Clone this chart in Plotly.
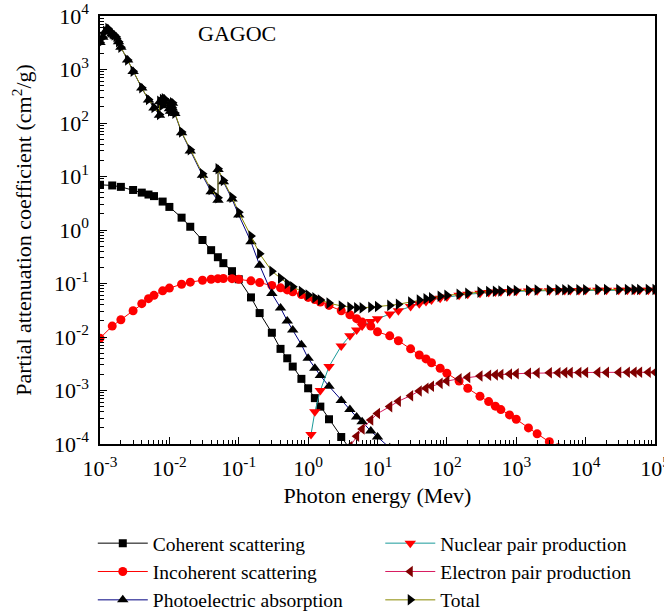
import plotly.graph_objects as go

# ---------------- data ----------------
E_coh = [1e-3, 1.5e-3, 2e-3, 3e-3, 4e-3, 5e-3, 6e-3, 8e-3, 1e-2, 1.5e-2, 2e-2, 3e-2, 4e-2, 5e-2,
         6e-2, 8e-2, 0.1, 0.15, 0.2, 0.3, 0.4, 0.5, 0.6, 0.8, 1, 1.25, 1.5, 2, 3, 4]
coherent = [7.0, 6.8, 6.4, 5.6, 5.0, 4.6, 4.3, 3.4, 2.7, 1.7, 1.15, 0.65, 0.42, 0.31,
            0.24, 0.17, 0.12, 0.055, 0.028, 0.012, 6.0e-3, 4.0e-3, 2.8e-3, 1.65e-3, 1.1e-3,
            7.2e-4, 5.0e-4, 2.9e-4, 1.35e-4, 8e-5]

E_inc = [1e-3, 1.5e-3, 2e-3, 3e-3, 4e-3, 5e-3, 6e-3, 8e-3, 1e-2, 1.5e-2, 2e-2, 3e-2, 4e-2, 5e-2,
         6e-2, 8e-2, 0.1, 0.15, 0.2, 0.3, 0.4, 0.5, 0.6, 0.8, 1, 1.25, 1.5, 2, 3, 4, 5, 6, 8,
         10, 15, 20, 30, 40, 50, 60, 80, 100, 150, 200, 300, 400, 500, 600, 800, 1e3, 1.5e3,
         2e3, 3e3, 4e3]
incoherent = [0.0095, 0.016, 0.021, 0.031, 0.042, 0.052, 0.06, 0.073, 0.082, 0.097, 0.106,
              0.115, 0.12, 0.123, 0.124, 0.123, 0.12, 0.112, 0.104, 0.092, 0.083, 0.076, 0.07,
              0.062, 0.055, 0.05, 0.045, 0.039, 0.031, 0.026, 0.022, 0.019, 0.016, 0.0125,
              0.0105, 0.0085, 0.006, 0.0046, 0.0039, 0.0033, 0.0026, 0.0021, 0.0015, 0.0011,
              7.8e-4, 6.2e-4, 5.1e-4, 4.4e-4, 3.5e-4, 2.9e-4, 2.0e-4, 1.55e-4, 1.1e-4, 8.5e-5]

E_pe = [1e-3, 1.1e-3, 1.2e-3, 1.3e-3, 1.4e-3, 1.5e-3, 1.6e-3, 1.7e-3, 1.85e-3, 2e-3, 2.5e-3,
        3e-3, 4e-3, 5e-3, 6e-3, 7.2e-3, 7.25e-3, 7.9e-3, 7.95e-3, 8.4e-3, 8.45e-3, 1e-2,
        1.037e-2, 1.04e-2, 1.1e-2, 1.11e-2, 1.2e-2, 1.5e-2, 2e-2, 3e-2, 4e-2, 5.02e-2, 5.03e-2,
        6e-2, 8e-2, 0.1, 0.15, 0.2, 0.3, 0.4, 0.5, 0.6, 0.8, 1, 1.25, 1.5, 2, 3, 4, 5, 6, 8,
        10, 15]
photoelectric = [3200, 4000, 5200, 5800, 5000, 4700, 4400, 4100, 3300, 2600, 1500, 920, 450,
                 270, 190, 140, 250, 210, 270, 240, 280, 185, 165, 225, 190, 235, 150, 66, 30,
                 10.5, 5.2, 3.6, 13.5, 8.0, 3.8, 1.9, 0.6, 0.22, 0.065, 0.035, 0.02, 0.0135,
                 0.0072, 0.004, 0.0026, 0.0019, 0.0012, 6.5e-4, 4.4e-4, 3.2e-4, 2.6e-4,
                 1.75e-4, 1.35e-4, 8.5e-5]

E_nuc = [1.1, 1.25, 1.5, 2, 3, 4, 5, 6, 8, 10, 15, 20, 30, 40, 50, 60, 80, 100, 150, 200, 300,
         400, 500, 600, 800, 1e3, 1.5e3, 2e3, 3e3, 4e3, 5e3, 6e3, 8e3, 1e4, 1.5e4, 2e4, 3e4,
         4e4, 5e4, 6e4, 8e4, 1e5]
nuclear_pair = [1.5e-4, 4e-4, 1.0e-3, 2.8e-3, 6.8e-3, 0.0105, 0.0135, 0.016, 0.0195, 0.022,
                0.027, 0.031, 0.037, 0.042, 0.046, 0.049, 0.053, 0.056, 0.060, 0.063, 0.066,
                0.068, 0.069, 0.070, 0.071, 0.0717, 0.0725, 0.073, 0.0735, 0.0737, 0.074,
                0.074, 0.0742, 0.0744, 0.0745, 0.0746, 0.0747, 0.0748, 0.0748, 0.0749, 0.075,
                0.075]

E_el = [4, 5, 6, 8, 10, 15, 20, 30, 40, 50, 60, 80, 100, 150, 200, 300, 400, 500, 600, 800,
        1e3, 1.5e3, 2e3, 3e3, 4e3, 5e3, 6e3, 8e3, 1e4, 1.5e4, 2e4, 3e4, 4e4, 5e4, 6e4, 8e4, 1e5]
electron_pair = [9e-5, 1.4e-4, 1.9e-4, 2.8e-4, 3.7e-4, 5.0e-4, 6.3e-4, 8.0e-4, 9.8e-4, 1.1e-3,
                 1.2e-3, 1.36e-3, 1.5e-3, 1.66e-3, 1.76e-3, 1.86e-3, 1.92e-3, 1.96e-3, 1.99e-3,
                 2.03e-3, 2.06e-3, 2.1e-3, 2.12e-3, 2.14e-3, 2.15e-3, 2.16e-3, 2.16e-3, 2.17e-3,
                 2.17e-3, 2.18e-3, 2.18e-3, 2.18e-3, 2.19e-3, 2.19e-3, 2.19e-3, 2.19e-3, 2.19e-3]

E_tot = E_pe[:-1] + [15, 20, 30, 40, 50, 60, 80, 100, 150, 200, 300, 400, 500, 600, 800, 1e3,
                     1.5e3, 2e3, 3e3, 4e3, 5e3, 6e3, 8e3, 1e4, 1.5e4, 2e4, 3e4, 4e4, 5e4, 6e4,
                     8e4, 1e5]
total = [3210, 4010, 5210, 5810, 5010, 4710, 4410, 4110, 3310, 2610, 1510, 925, 455, 275, 194,
         144, 254, 214, 274, 244, 284, 188, 168, 228, 193, 238, 153, 68, 31.5, 11.3, 5.7, 4.0,
         13.9, 8.4, 4.1, 2.15, 0.77, 0.36, 0.17, 0.125, 0.1, 0.087, 0.071, 0.061, 0.054, 0.049,
         0.043, 0.038, 0.036, 0.035, 0.035, 0.036, 0.037,
         0.039, 0.041, 0.045, 0.049, 0.052, 0.054, 0.058, 0.060, 0.063, 0.066, 0.069, 0.0706,
         0.0716, 0.0725, 0.0735, 0.0741, 0.0748, 0.0753, 0.0758, 0.076, 0.0762, 0.0763, 0.0765,
         0.0767, 0.0769, 0.077, 0.0771, 0.0772, 0.0772, 0.0773, 0.0773, 0.0774]

x_ticks = [1e-3, 1e-2, 1e-1, 1e0, 1e1, 1e2, 1e3, 1e4, 1e5]
x_ticktext = ["10<sup>-3</sup>", "10<sup>-2</sup>", "10<sup>-1</sup>", "10<sup>0</sup>",
              "10<sup>1</sup>", "10<sup>2</sup>", "10<sup>3</sup>", "10<sup>4</sup>",
              "10<sup>5</sup>"]
y_ticks = [1e-4, 1e-3, 1e-2, 1e-1, 1e0, 1e1, 1e2, 1e3, 1e4]
y_ticktext = ["10<sup>-4</sup>", "10<sup>-3</sup>", "10<sup>-2</sup>", "10<sup>-1</sup>",
              "10<sup>0</sup>", "10<sup>1</sup>", "10<sup>2</sup>", "10<sup>3</sup>",
              "10<sup>4</sup>"]

# ---------------- figure ----------------
# name, x, y, symbol, marker colour, line colour, marker size, legend id
series = [
    ("Coherent scattering", E_coh, coherent, "square", "black", "black", 8, "legend"),
    ("Incoherent scattering", E_inc, incoherent, "circle", "#ff0000", "#ff0000", 9, "legend"),
    ("Photoelectric absorption", E_pe, photoelectric, "triangle-up", "black", "#000080", 10, "legend"),
    ("Nuclear pair production", E_nuc, nuclear_pair, "triangle-down", "#ff0000", "#1a9a9a", 10, "legend2"),
    ("Electron pair production", E_el, electron_pair, "triangle-left", "#800000", "#d81b60", 10, "legend2"),
    ("Total", E_tot, total, "triangle-right", "black", "#8a8a00", 10, "legend2"),
]

fig = go.Figure()
for name, xs, ys, sym, mcol, lcol, msize, leg in series:
    fig.add_trace(go.Scatter(
        x=xs, y=ys, name=name, mode="lines+markers",
        line=dict(color=lcol, width=1),
        marker=dict(symbol=sym, color=mcol, size=msize, line=dict(width=0)),
        legend=leg, cliponaxis=True,
    ))

minor_x = [m * 10 ** d for d in range(-3, 5) for m in range(2, 10)]
minor_y = [m * 10 ** d for d in range(-4, 4) for m in range(2, 10)]

axis_common = dict(
    type="log", showgrid=False, zeroline=False, showline=True, linecolor="black",
    linewidth=1.5, mirror=True, ticks="inside", ticklen=7, tickwidth=1, tickcolor="black",
    tickfont=dict(size=22, family="Liberation Serif", color="black"), automargin=False,
    ticklabeloverflow="allow",
)

fig.update_xaxes(
    **axis_common, range=[-3, 5], tickmode="array", tickvals=x_ticks, ticktext=x_ticktext,
    ticklabelstandoff=4,
    minor=dict(tickmode="array", tickvals=minor_x, ticks="inside", ticklen=4, tickcolor="black"),
    title=dict(text="Photon energy (Mev)", font=dict(size=22), standoff=7),
)
fig.update_yaxes(
    **axis_common, range=[-4, 4], tickmode="array", tickvals=y_ticks, ticktext=y_ticktext,
    ticklabelstandoff=5,
    minor=dict(tickmode="array", tickvals=minor_y, ticks="inside", ticklen=4, tickcolor="black"),
    title=dict(text="Partial attenuation coefficient (cm<sup>2</sup>/g)", font=dict(size=22),
               standoff=16),
)

fig.add_annotation(text="GAGOC", xref="paper", yref="paper", x=0.247, y=0.96,
                   xanchor="center", yanchor="middle",
                   showarrow=False, font=dict(size=22, color="black"))

legend_common = dict(
    orientation="v", xref="paper", yref="container", xanchor="left", yanchor="top",
    itemwidth=50, font=dict(size=19.5), bgcolor="rgba(0,0,0,0)", tracegroupgap=0,
)

fig.update_layout(
    width=664, height=616,
    margin=dict(l=100, r=9, t=16, b=172),
    plot_bgcolor="white", paper_bgcolor="white",
    font=dict(family="Liberation Serif", size=20, color="black"),
    legend=dict(**legend_common, x=-0.013, y=0.1494),
    legend2=dict(**legend_common, x=0.505, y=0.1494),
    showlegend=True,
)

fig.write_html("out.html", config={"displayModeBar": False},
               post_script="document.body.style.margin='0';document.body.style.overflow='hidden';")
